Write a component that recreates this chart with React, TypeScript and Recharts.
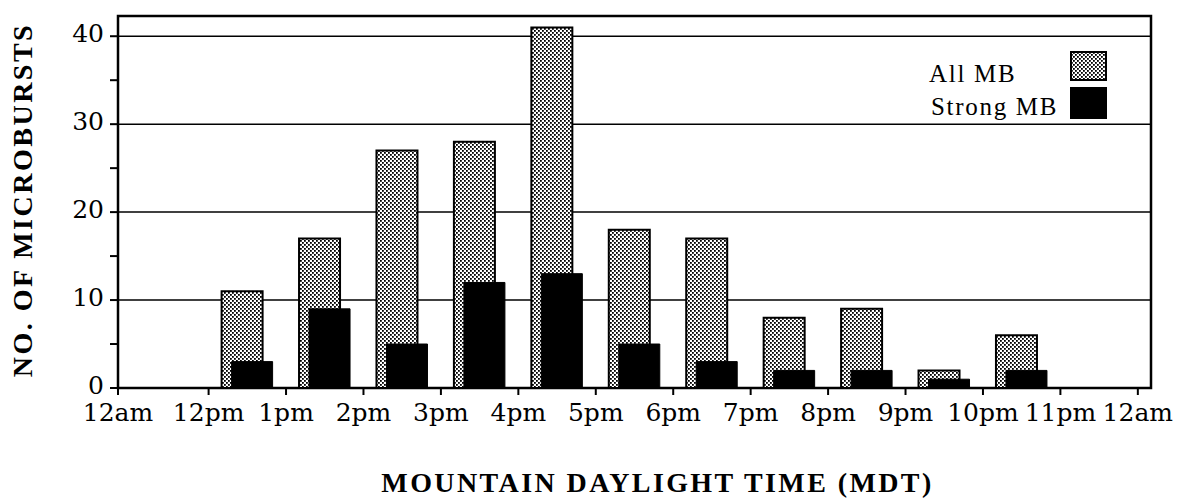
import {
  Bar,
  BarChart,
  CartesianGrid,
  Label,
  Legend,
  ReferenceArea,
  XAxis,
  YAxis,
} from "recharts";

// hour of day each slot starts at (12 = noon)
const hourStart = [12, 13, 14, 15, 16, 17, 18, 19, 20, 21, 22];
const allMB = [11, 17, 27, 28, 41, 18, 17, 8, 9, 2, 6];
const strongMB = [3, 9, 5, 12, 13, 5, 3, 2, 2, 1, 2];

// the night hours are squeezed into a short stretch at the left
const xTicks = [10.83, 12, 13, 14, 15, 16, 17, 18, 19, 20, 21, 22, 23, 24];
const xTickLabels = [
  "12am", "12pm", "1pm", "2pm", "3pm", "4pm", "5pm",
  "6pm", "7pm", "8pm", "9pm", "10pm", "11pm", "12am",
];
const yTicks = [0, 5, 10, 15, 20, 25, 30, 35, 40];
const yGrid = [10, 20, 30, 40];
const X_DOMAIN: [number, number] = [10.83, 24.17];
const Y_DOMAIN: [number, number] = [0, 42.3];

const serif = "'Liberation Serif', 'Times New Roman', serif";
const tickFont = "'DejaVu Serif', serif";

const data = hourStart.map((h, i) => ({
  hour: h + 0.5,
  all: allMB[i],
  strong: strongMB[i],
}));

// only every 10 gets a number, the 5s are bare tick marks
function YTick({ x, y, payload }: any) {
  if (payload.value % 10 !== 0) return null;
  return (
    <text
      x={x}
      y={y - 3}
      dy="0.36em"
      textAnchor="end"
      fontFamily={tickFont}
      fontSize={25}
      fill="#000"
    >
      {payload.value}
    </text>
  );
}

function LegendBox({ payload }: any) {
  const items = payload ?? [];
  return (
    <svg width={190} height={76} style={{ display: "block" }}>
      {items.map((item: any, i: number) => (
        <g key={item.value}>
          <text
            x={i === 0 ? 4 : 6}
            y={i === 0 ? 34 : 67}
            fontFamily={serif}
            fontSize={25}
            letterSpacing={1.7}
            fill="#000"
          >
            {item.value}
          </text>
          <rect
            x={146}
            y={i === 0 ? 4 : 40}
            width={35}
            height={i === 0 ? 28 : 30}
            fill={i === 0 ? "url(#stipple)" : "#000"}
            stroke="#000"
            strokeWidth={2}
          />
        </g>
      ))}
    </svg>
  );
}

export default function App() {
  return (
    <div style={{ position: "absolute", left: 0, top: 0, background: "#fff" }}>
      <BarChart
        width={1179}
        height={499}
        data={data}
        margin={{ top: 16, right: 28, left: 0, bottom: 0 }}
        barGap={-31}
      >
        <defs>
          <pattern id="stipple" width={4} height={4} patternUnits="userSpaceOnUse">
            <rect width={4} height={4} fill="#fff" />
            <rect x={0} y={0} width={1.8} height={1.8} fill="#000" />
            <rect x={2} y={2} width={1.8} height={1.8} fill="#000" />
          </pattern>
        </defs>
        <CartesianGrid
          vertical={false}
          horizontalValues={yGrid}
          stroke="#000"
          strokeWidth={1.5}
        />
        <XAxis
          type="number"
          dataKey="hour"
          domain={X_DOMAIN}
          ticks={xTicks}
          interval={0}
          allowDataOverflow
          height={111}
          tickSize={7}
          tickMargin={8}
          tickFormatter={(v: number) => xTickLabels[xTicks.indexOf(v)] ?? ""}
          tick={{ fill: "#000", fontSize: 25, fontFamily: tickFont }}
          axisLine={{ stroke: "#000", strokeWidth: 2 }}
          tickLine={{ stroke: "#000", strokeWidth: 2 }}
        >
          <Label
            content={({ viewBox }: any) => (
              <text
                x={viewBox.x + viewBox.width / 2 + 23}
                y={viewBox.y + 104}
                textAnchor="middle"
                fontFamily={serif}
                fontWeight="bold"
                fontSize={28}
                letterSpacing={2.4}
                fill="#000"
              >
                MOUNTAIN DAYLIGHT TIME (MDT)
              </text>
            )}
          />
        </XAxis>
        <YAxis
          type="number"
          domain={Y_DOMAIN}
          ticks={yTicks}
          interval={0}
          width={118}
          tickSize={8}
          tickMargin={6}
          tick={YTick}
          axisLine={{ stroke: "#000", strokeWidth: 2 }}
          tickLine={{ stroke: "#000", strokeWidth: 2 }}
        >
          <Label
            content={() => (
              <text
                x={22}
                y={200}
                transform="rotate(-90, 22, 200)"
                textAnchor="middle"
                dominantBaseline="central"
                fontFamily={serif}
                fontWeight="bold"
                fontSize={28}
                letterSpacing={2.5}
                fill="#000"
              >
                NO. OF MICROBURSTS
              </text>
            )}
          />
        </YAxis>
        <ReferenceArea
          x1={X_DOMAIN[0]}
          x2={X_DOMAIN[1]}
          y1={Y_DOMAIN[0]}
          y2={Y_DOMAIN[1]}
          fill="none"
          stroke="#000"
          strokeWidth={2.5}
        />
        <Legend
          layout="vertical"
          align="center"
          verticalAlign="middle"
          wrapperStyle={{ left: 925, top: 48, width: 190 }}
          content={LegendBox}
        />
        <Bar
          dataKey="all"
          name="All MB"
          barSize={41}
          fill="url(#stipple)"
          stroke="#000"
          strokeWidth={2}
          isAnimationActive={false}
        />
        <Bar
          dataKey="strong"
          name="Strong MB"
          barSize={41}
          fill="#000"
          stroke="#000"
          strokeWidth={1}
          isAnimationActive={false}
        />
      </BarChart>
    </div>
  );
}
